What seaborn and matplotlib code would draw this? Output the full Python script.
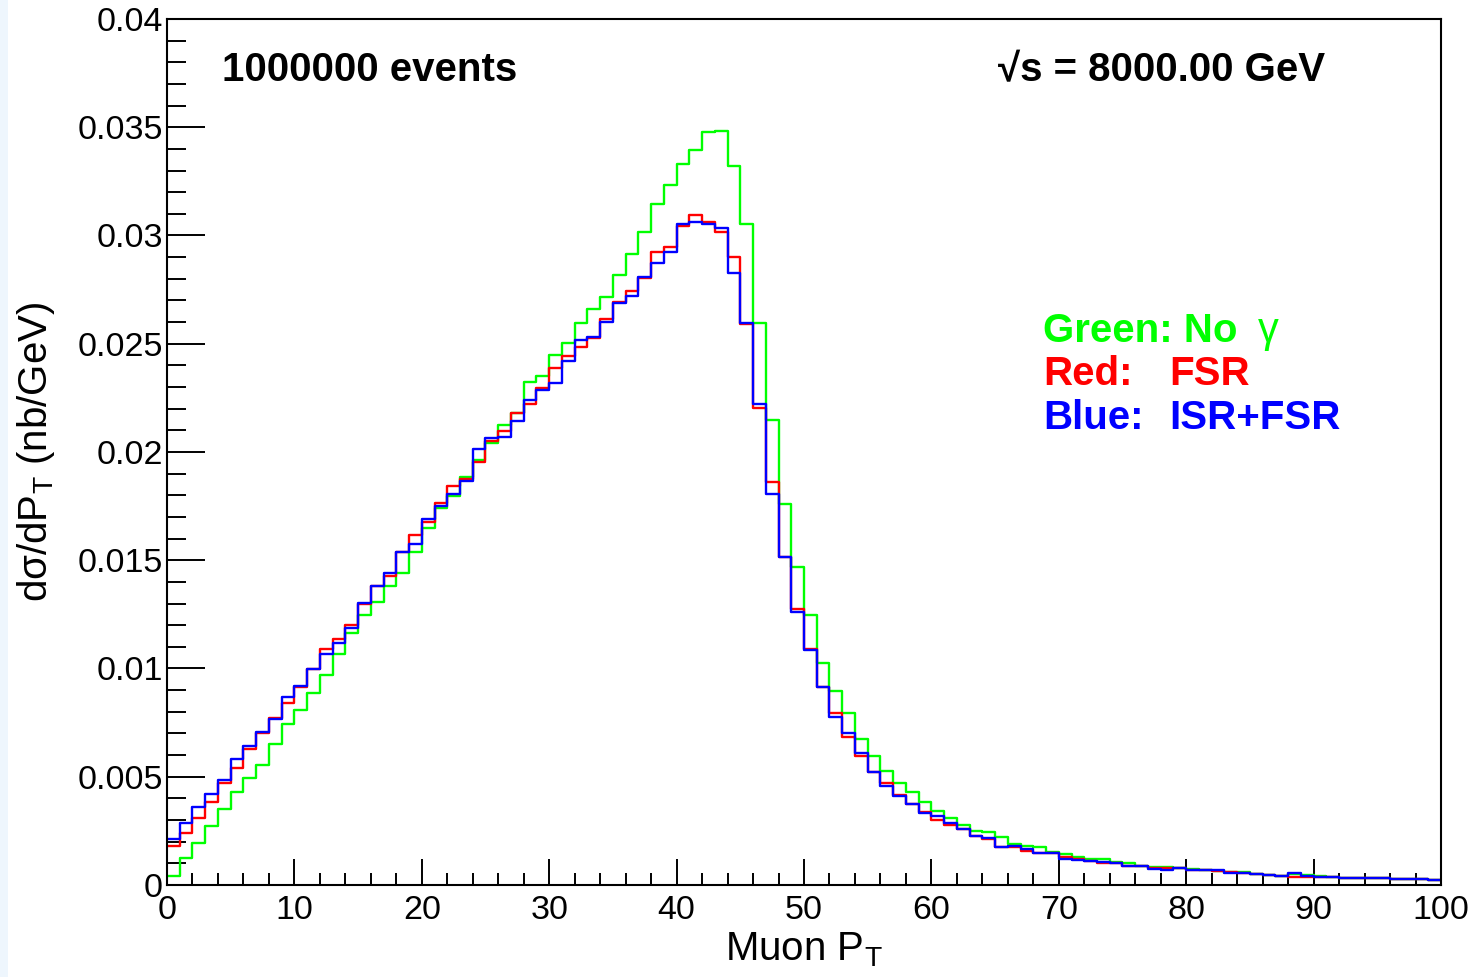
import numpy as np
import pandas as pd
import matplotlib
matplotlib.use("Agg")
import matplotlib.pyplot as plt
from matplotlib.patches import Rectangle
from matplotlib.ticker import MultipleLocator
import seaborn as sns

# ---- data: d(sigma)/dPT per 1 GeV bin, 0..100 GeV ----
PT_MIN, PT_MAX, BIN_WIDTH = 0, 100, 1

no_gamma = [
    0.00042, 0.00126, 0.00195, 0.00272, 0.00352, 0.00430, 0.00493, 0.00554, 0.00651, 0.00742,
    0.00808, 0.00885, 0.00970, 0.01066, 0.01165, 0.01247, 0.01309, 0.01381, 0.01440, 0.01538,
    0.01648, 0.01740, 0.01798, 0.01883, 0.01963, 0.02043, 0.02125, 0.02179, 0.02323, 0.02351,
    0.02448, 0.02505, 0.02594, 0.02659, 0.02718, 0.02818, 0.02913, 0.03018, 0.03144, 0.03232,
    0.03330, 0.03395, 0.03477, 0.03484, 0.03321, 0.03052, 0.02597, 0.02148, 0.01758, 0.01470,
    0.01247, 0.01027, 0.00898, 0.00793, 0.00673, 0.00596, 0.00528, 0.00470, 0.00428, 0.00382,
    0.00343, 0.00308, 0.00277, 0.00251, 0.00246, 0.00223, 0.00188, 0.00182, 0.00174, 0.00150,
    0.00145, 0.00130, 0.00122, 0.00122, 0.00108, 0.00100, 0.00088, 0.00082, 0.00082, 0.00077,
    0.00072, 0.00069, 0.00065, 0.00062, 0.00060, 0.00049, 0.00046, 0.00043, 0.00049, 0.00046,
    0.00041, 0.00038, 0.00034, 0.00034, 0.00034, 0.00031, 0.00028, 0.00028, 0.00026, 0.00023,
]

fsr = [
    0.00180, 0.00242, 0.00311, 0.00385, 0.00470, 0.00539, 0.00628, 0.00701, 0.00770, 0.00839,
    0.00916, 0.00996, 0.01089, 0.01135, 0.01201, 0.01296, 0.01381, 0.01427, 0.01537, 0.01617,
    0.01678, 0.01763, 0.01843, 0.01873, 0.01954, 0.02052, 0.02099, 0.02179, 0.02220, 0.02294,
    0.02387, 0.02443, 0.02487, 0.02528, 0.02613, 0.02694, 0.02745, 0.02802, 0.02925, 0.02948,
    0.03044, 0.03095, 0.03064, 0.03018, 0.02900, 0.02591, 0.02202, 0.01863, 0.01516, 0.01275,
    0.01089, 0.00913, 0.00793, 0.00682, 0.00596, 0.00523, 0.00470, 0.00416, 0.00374, 0.00336,
    0.00300, 0.00277, 0.00257, 0.00228, 0.00212, 0.00177, 0.00175, 0.00157, 0.00146, 0.00146,
    0.00127, 0.00120, 0.00111, 0.00100, 0.00103, 0.00089, 0.00088, 0.00079, 0.00079, 0.00077,
    0.00069, 0.00068, 0.00065, 0.00062, 0.00057, 0.00049, 0.00046, 0.00043, 0.00038, 0.00038,
    0.00035, 0.00035, 0.00034, 0.00034, 0.00031, 0.00031, 0.00028, 0.00028, 0.00026, 0.00023,
]

isr_fsr = [
    0.00211, 0.00288, 0.00362, 0.00420, 0.00485, 0.00581, 0.00642, 0.00708, 0.00767, 0.00867,
    0.00919, 0.00996, 0.01067, 0.01119, 0.01186, 0.01304, 0.01381, 0.01440, 0.01537, 0.01575,
    0.01690, 0.01752, 0.01806, 0.01868, 0.02013, 0.02063, 0.02071, 0.02145, 0.02240, 0.02285,
    0.02317, 0.02420, 0.02517, 0.02530, 0.02602, 0.02687, 0.02722, 0.02810, 0.02874, 0.02925,
    0.03053, 0.03061, 0.03052, 0.03033, 0.02828, 0.02594, 0.02222, 0.01805, 0.01516, 0.01262,
    0.01083, 0.00913, 0.00777, 0.00701, 0.00608, 0.00523, 0.00457, 0.00411, 0.00374, 0.00331,
    0.00320, 0.00288, 0.00257, 0.00228, 0.00215, 0.00177, 0.00180, 0.00165, 0.00146, 0.00146,
    0.00119, 0.00115, 0.00111, 0.00106, 0.00103, 0.00089, 0.00088, 0.00072, 0.00069, 0.00077,
    0.00069, 0.00069, 0.00069, 0.00054, 0.00054, 0.00049, 0.00046, 0.00043, 0.00054, 0.00043,
    0.00035, 0.00035, 0.00034, 0.00034, 0.00031, 0.00031, 0.00028, 0.00028, 0.00026, 0.00023,
]

X_TICKS = list(range(0, 101, 10))
Y_TICKS = [0, 0.005, 0.01, 0.015, 0.02, 0.025, 0.03, 0.035, 0.04]
Y_TICK_LABELS = ["0", "0.005", "0.01", "0.015", "0.02", "0.025", "0.03", "0.035", "0.04"]

SERIES = [("No gamma", no_gamma, "#00ff00"),
          ("FSR", fsr, "#ff0000"),
          ("ISR+FSR", isr_fsr, "#0000ff")]

sns.set_theme(style="white")
plt.rcParams["font.family"] = ["Liberation Sans", "DejaVu Sans"]
plt.rcParams["mathtext.fontset"] = "dejavusans"
plt.rcParams["text.color"] = "black"
plt.rcParams["axes.labelcolor"] = "black"
plt.rcParams["xtick.color"] = "black"
plt.rcParams["ytick.color"] = "black"

centers = np.arange(PT_MIN, PT_MAX, BIN_WIDTH) + BIN_WIDTH / 2

fig = plt.figure(figsize=(14.74, 9.77), dpi=100)
fig.patch.set_facecolor("white")
# faint screenshot strip on the far left
fig.patches.append(Rectangle((0, 0), 0.0055, 1, transform=fig.transFigure,
                             facecolor="#eef6fd", edgecolor="none", zorder=-1))
ax = fig.add_axes([0.1133, 0.0942, 0.8643, 0.8864])

for name, vals, col in SERIES:
    df = pd.DataFrame({"pt": centers, "xsec": vals})
    sns.histplot(data=df, x="pt", weights="xsec", binwidth=BIN_WIDTH,
                 binrange=(PT_MIN, PT_MAX), element="step", fill=False,
                 color=col, linewidth=1.7, ax=ax, legend=False)

ax.set_xlim(PT_MIN, PT_MAX)
ax.set_ylim(0, 0.04)

ax.set_xticks(X_TICKS)
ax.xaxis.set_minor_locator(MultipleLocator(2))
ax.set_yticks(Y_TICKS)
ax.set_yticklabels(Y_TICK_LABELS)
ax.yaxis.set_minor_locator(MultipleLocator(0.001))

ax.tick_params(axis="x", which="major", direction="in", length=18.5, width=1.4,
               labelsize=24.5, pad=7, color="black", labelcolor="black", bottom=True)
ax.tick_params(axis="x", which="minor", direction="in", length=8.8, width=1.4,
               color="black", bottom=True)
ax.tick_params(axis="y", which="major", direction="in", length=27, width=1.4,
               labelsize=24.5, pad=3, color="black", labelcolor="black", left=True)
ax.tick_params(axis="y", which="minor", direction="in", length=13.5, width=1.4,
               color="black", left=True)

for sp in ax.spines.values():
    sp.set_color("black")
    sp.set_linewidth(1.5)

ax.set_xlabel(r"Muon P$_\mathregular{T}$", fontsize=29, color="black")
ax.set_ylabel("d\u03c3/dP$_\\mathregular{T}$ (nb/GeV)", fontsize=29, color="black")
ax.xaxis.set_label_coords(0.5, -0.053)
ax.yaxis.set_label_coords(-0.086, 0.5)

ax.text(0.043, 0.928, "1000000 events", transform=ax.transAxes,
        fontsize=29, fontweight="bold", ha="left", va="baseline")
ax.text(0.652, 0.928, "\u221as = 8000.00 GeV", transform=ax.transAxes,
        fontsize=29, fontweight="bold", ha="left", va="baseline")

ax.text(0.6876, 0.627, "Green: No", transform=ax.transAxes,
        fontsize=29, fontweight="bold", color="#00ff00", va="baseline")
ax.text(0.856, 0.627, "\u03b3", transform=ax.transAxes,
        fontsize=30, fontweight="normal", color="#00ff00", va="baseline")
ax.text(0.6876, 0.577, "Red:", transform=ax.transAxes,
        fontsize=29, fontweight="bold", color="#ff0000", va="baseline")
ax.text(0.7865, 0.577, "FSR", transform=ax.transAxes,
        fontsize=29, fontweight="bold", color="#ff0000", va="baseline")
ax.text(0.6876, 0.527, "Blue:", transform=ax.transAxes,
        fontsize=29, fontweight="bold", color="#0000ff", va="baseline")
ax.text(0.7865, 0.527, "ISR+FSR", transform=ax.transAxes,
        fontsize=29, fontweight="bold", color="#0000ff", va="baseline")

fig.savefig("out.png", dpi=100)
plt.close(fig)
